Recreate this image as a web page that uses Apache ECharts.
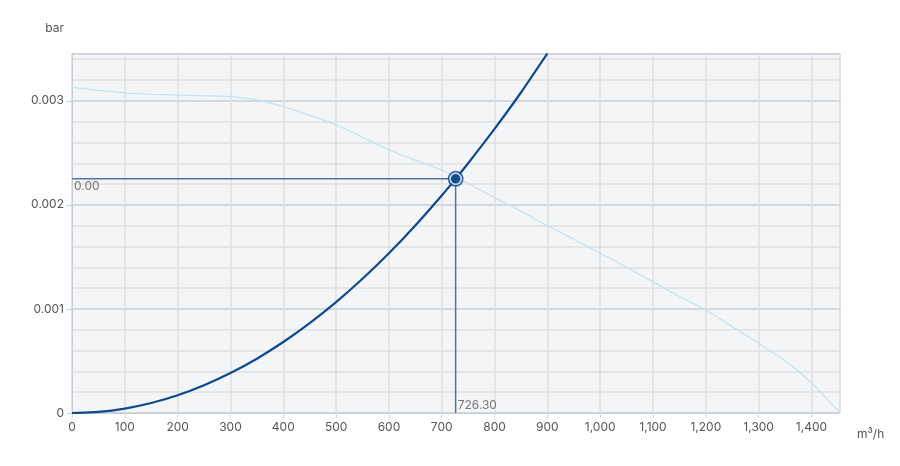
<!DOCTYPE html>
<html>
<head>
<meta charset="utf-8">
<script src="https://cdn.jsdelivr.net/npm/echarts@6/dist/echarts.min.js"></script>
<style>html,body{margin:0;padding:0;background:#fff}#c{width:900px;height:466px}</style>
</head>
<body>
<div id="c"></div>
<script>
const pumpFlow = [0, 50, 100, 150, 200, 250, 300, 350, 400, 450, 500, 550, 600, 650, 700, 750, 800, 850, 900, 950, 1000, 1050, 1100, 1150, 1200, 1250, 1300, 1350, 1400, 1454];
const pumpHead = [0.00313, 0.0031, 0.003077, 0.003063, 0.003055, 0.003048, 0.00304, 0.00301, 0.002945, 0.00286, 0.00277, 0.00265, 0.00253, 0.00243, 0.002335, 0.002205, 0.00207, 0.00194, 0.0018, 0.00167, 0.001536, 0.0014, 0.00126, 0.00112, 0.00099, 0.00083, 0.00067, 0.0005, 0.00029, 0];
const sysFlow = [0, 50, 100, 150, 200, 250, 300, 350, 400, 450, 500, 550, 600, 650, 700, 726.3, 750, 800, 850, 900];
const sysHead = [0, 0.0000107, 0.0000427, 0.000096, 0.000171, 0.000267, 0.000384, 0.000522, 0.000682, 0.000864, 0.001066, 0.00129, 0.001535, 0.001802, 0.00209, 0.00225, 0.0024, 0.00273, 0.00308, 0.003455];
const opFlow = 726.3;
const opHead = 0.00225;
const xMax = 1454;
const yMax = 0.00345;

const zip = (a, b) => a.map((v, i) => [v, b[i]]);
const fmtX = v => v.toLocaleString('en-US');
const txt = { color: '#555', fontFamily: 'Inter', fontSize: 12 };

const chart = echarts.init(document.getElementById('c'), null, { renderer: 'canvas' });
chart.setOption({
  animation: false,
  backgroundColor: '#fff',
  grid: { left: 72, right: 60, top: 54, bottom: 53, show: true, backgroundColor: '#f4f5f7', borderColor: '#cfd6e0', borderWidth: 1 },
  xAxis: {
    type: 'value', min: 0, max: xMax, interval: 100,
    name: 'm³/h', nameLocation: 'end', nameGap: 17,
    nameTextStyle: Object.assign({}, txt, { verticalAlign: 'top', padding: [15, 0, 0, 0] }),
    axisLine: { show: true, lineStyle: { color: '#c8ced8' } },
    axisTick: { show: true, length: 5, lineStyle: { color: '#d8d8d8' } },
    axisLabel: Object.assign({}, txt, { formatter: fmtX, showMaxLabel: false, margin: 8 }),
    splitLine: { show: true, lineStyle: { color: '#dedfe1', width: 1.5 } }
  },
  yAxis: {
    type: 'value', min: 0, max: yMax, interval: 0.001,
    name: 'bar', nameLocation: 'end', nameGap: 20,
    nameTextStyle: Object.assign({}, txt, { align: 'right', padding: [0, 8, 0, 0] }),
    axisLine: { show: true, lineStyle: { color: '#c8ced8' } },
    axisTick: { show: true, length: 5, lineStyle: { color: '#c8ced8' } },
    axisLabel: Object.assign({}, txt, { showMaxLabel: false, margin: 8, formatter: v => v === 0 ? '0' : String(+v.toFixed(3)) }),
    minorTick: { show: false, splitNumber: 5 },
    splitLine: { show: true, lineStyle: { color: '#c8ced8', width: 1.5 } },
    minorSplitLine: { show: true, lineStyle: { color: '#dedfe1', width: 1.5 } }
  },
  series: [
    {
      type: 'line', data: zip(pumpFlow, pumpHead), smooth: 0.2, symbol: 'none',
      lineStyle: { color: '#bfe3f2', width: 1.2 }, z: 2
    },
    {
      type: 'line', data: [[0, opHead], [opFlow, opHead]], symbol: 'none',
      lineStyle: { color: '#4f75a8', width: 1.5 }, z: 3
    },
    {
      type: 'line', data: [[opFlow, 0], [opFlow, opHead]], symbol: 'none',
      lineStyle: { color: '#4f75a8', width: 1.5 }, z: 3
    },
    {
      type: 'line', data: zip(sysFlow, sysHead), smooth: 0.2, symbol: 'none',
      lineStyle: { color: '#0e4a8c', width: 2.2 }, z: 4
    },
    {
      type: 'scatter', data: [[opFlow, opHead]], symbol: 'circle', symbolSize: 11,
      itemStyle: { color: '#0e4a8c', borderColor: '#fff', borderWidth: 1.5 }, z: 6
    },
    {
      type: 'scatter', data: [[opFlow, opHead]], symbol: 'circle', symbolSize: 16,
      itemStyle: { color: '#0e4a8c' }, z: 5
    },
    {
      type: 'scatter', data: [[0, opHead]], symbolSize: 0, z: 7,
      label: { show: true, position: 'bottom', align: 'left', offset: [2, -3], formatter: () => opHead.toFixed(2), color: '#555', fontFamily: 'Inter', fontSize: 12 }
    },
    {
      type: 'scatter', data: [[opFlow, 0]], symbolSize: 0, z: 7,
      label: { show: true, position: 'top', align: 'left', offset: [2, 3], formatter: () => opFlow.toFixed(2), color: '#555', fontFamily: 'Inter', fontSize: 12 }
    }
  ]
});
</script>
</body>
</html>
